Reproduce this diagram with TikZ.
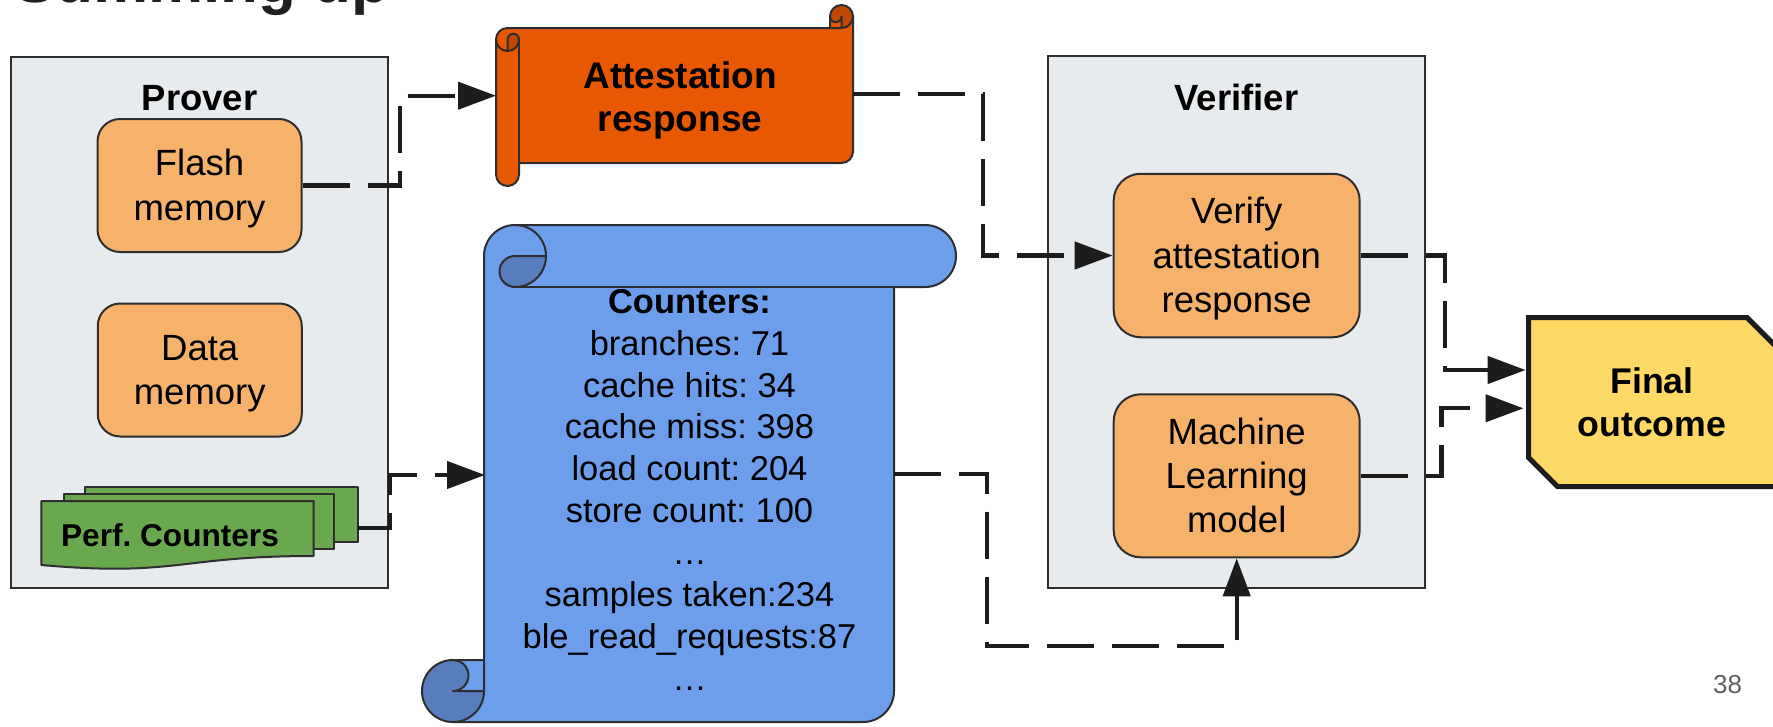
\documentclass[tikz,border=0pt]{standalone}
\usepackage{fontspec}
\setmainfont{Liberation Sans}
\usetikzlibrary{arrows.meta}
\frenchspacing
\definecolor{panelgray}{HTML}{E8EBED}
\definecolor{edgegray}{HTML}{2E2E2E}
\definecolor{boxorange}{HTML}{F6B26B}
\definecolor{scrollorange}{HTML}{E85800}
\definecolor{scrollorangedk}{HTML}{C04800}
\definecolor{scrollblue}{HTML}{6D9EEB}
\definecolor{scrollbluedk}{HTML}{587DBC}
\definecolor{docgreen}{HTML}{6AA84F}
\definecolor{outcomeyellow}{HTML}{FFD966}
\definecolor{linkblack}{HTML}{1C1C1C}
\definecolor{pagegray}{HTML}{5F5F5F}
% line box of one text line: ascent and descent of the sans face
\newcommand\lnstrut{\rule[-0.212em]{0pt}{1.117em}}
\begin{document}
\begin{tikzpicture}[x=1pt,y=-1pt,
  panel/.style={draw=edgegray,line width=2pt,fill=panelgray,minimum width=377pt,minimum height=531pt,inner sep=0pt},
  rbox/.style={draw=edgegray,line width=2pt,fill=boxorange,align=center,inner sep=0pt,font=\fontsize{36.5}{44.4}\selectfont},
  paneltitle/.style={font=\fontsize{36.5}{40}\selectfont\bfseries,anchor=base,inner sep=0pt},
  shapeline/.style={draw=edgegray,line width=2pt,line join=round},
  conn/.style={draw=linkblack,line width=4.3pt,line join=miter,dash pattern=on 47pt off 18pt,-{Triangle[length=38pt,width=27pt]}},
]
\fill[white] (0,0) rectangle (1773,726);
\useasboundingbox (0,0) rectangle (1773,726);

% slide heading, only its lower edge falls inside the frame
\node[anchor=base west,inner sep=0pt,font=\fontsize{62}{70}\selectfont\bfseries,text=black!88] (heading) at (14,2) {Summing up};

% ---- panels ----
\node[panel] (prover) at (199.5,322.5) {};
\node[panel,minimum height=532pt] (verifier) at (1236.4,322.2) {};
\node[paneltitle] (provertitle) at (199.5,110) {Prover};
\node[paneltitle] (verifiertitle) at (1236.5,110) {Verifier};

\node[rbox,minimum width=204pt,minimum height=133pt,rounded corners=22.5pt] (flash) at (199.5,185.5) {\lnstrut Flash\\\lnstrut memory};
\node[rbox,minimum width=204pt,minimum height=133pt,rounded corners=22.5pt] (data) at (199.75,370) {\lnstrut Data\\\lnstrut memory};
\node[rbox,minimum width=246pt,minimum height=163.5pt,rounded corners=27pt] (verify) at (1236.7,255.5) {\lnstrut Verify\\\lnstrut attestation\\\lnstrut response};
\node[rbox,minimum width=246pt,minimum height=163pt,rounded corners=27pt] (ml) at (1236.7,475.8) {\lnstrut Machine\\\lnstrut Learning\\\lnstrut model};

% ---- stacked performance-counter documents ----
\path[shapeline,fill=docgreen] (85,487) rectangle (357.7,542.3);
\path[shapeline,fill=docgreen] (63.7,493.7) rectangle (334,549.3);
\path[shapeline,fill=docgreen] (41.3,501) -- (313.7,501) -- (313.7,556) .. controls (177.5,556) and (177.5,577) .. (41.3,565) -- cycle;
\node[anchor=base,inner sep=0pt,font=\fontsize{31.6}{36}\selectfont\bfseries] (perflabel) at (170,546) {Perf. Counters};
\coordinate (perfR) at (357.7,527.7);

% ---- attestation response: horizontal scroll ----
\path[fill=scrollorange] (496,39.5) arc[start angle=180,end angle=90,radius=11.5pt] -- (830,28) -- (830,16.5)
  arc[start angle=180,end angle=0,radius=11.5pt] -- (853,151.5) arc[start angle=0,end angle=-90,radius=11.5pt]
  -- (519,163) -- (519,174.5) arc[start angle=0,end angle=-180,radius=11.5pt] -- cycle;
\path[fill=scrollorangedk] (507.5,51) arc[start angle=270,end angle=360,radius=11.5pt] arc[start angle=0,end angle=180,radius=5.75pt] -- cycle;
\path[fill=scrollorangedk] (841.5,28) arc[start angle=270,end angle=540,radius=11.5pt] arc[start angle=180,end angle=360,radius=5.75pt] -- cycle;
\draw[shapeline] (496,39.5) arc[start angle=180,end angle=90,radius=11.5pt] -- (830,28) -- (830,16.5)
  arc[start angle=180,end angle=0,radius=11.5pt] -- (853,151.5) arc[start angle=0,end angle=-90,radius=11.5pt]
  -- (519,163) -- (519,174.5) arc[start angle=0,end angle=-180,radius=11.5pt] -- cycle;
\draw[shapeline] (830,28) -- (841.5,28) arc[start angle=270,end angle=360,radius=11.5pt];
\draw[shapeline] (841.5,28) -- (841.5,16.5) arc[start angle=0,end angle=-180,radius=5.75pt];
\draw[shapeline] (507.5,51) -- (507.5,39.5) arc[start angle=180,end angle=0,radius=5.75pt] arc[start angle=0,end angle=-180,radius=11.5pt];
\draw[shapeline] (519,39.5) -- (519,163);
\node[align=center,inner sep=0pt,font=\fontsize{37}{42.7}\selectfont\bfseries] (attest) at (680,96.85) {\lnstrut Attestation\\\lnstrut response};
\coordinate (attL) at (496,95.7);
\coordinate (attR) at (853,94.3);

% ---- counters: vertical scroll ----
\path[fill=scrollblue] (515,225) arc[start angle=90,end angle=180,radius=31pt] -- (484,660) -- (453,660)
  arc[start angle=90,end angle=270,radius=31pt] -- (863,722) arc[start angle=-90,end angle=0,radius=31pt]
  -- (894,287) -- (925,287) arc[start angle=-90,end angle=90,radius=31pt] -- cycle;
\path[fill=scrollbluedk] (546,256) arc[start angle=0,end angle=-90,radius=31pt] arc[start angle=-90,end angle=-270,radius=15.5pt] -- cycle;
\path[fill=scrollbluedk] (484,691) arc[start angle=0,end angle=-270,radius=31pt] arc[start angle=90,end angle=-90,radius=15.5pt] -- cycle;
\draw[shapeline] (515,225) arc[start angle=90,end angle=180,radius=31pt] -- (484,660) -- (453,660)
  arc[start angle=90,end angle=270,radius=31pt] -- (863,722) arc[start angle=-90,end angle=0,radius=31pt]
  -- (894,287) -- (925,287) arc[start angle=-90,end angle=90,radius=31pt] -- cycle;
\draw[shapeline] (484,660) -- (484,691) arc[start angle=0,end angle=-90,radius=31pt];
\draw[shapeline] (484,691) -- (453,691) arc[start angle=-90,end angle=90,radius=15.5pt];
\draw[shapeline] (546,256) -- (515,256) arc[start angle=90,end angle=270,radius=15.5pt] arc[start angle=270,end angle=450,radius=31pt];
\draw[shapeline] (515,287) -- (894,287);
\node[align=center,inner sep=0pt,font=\fontsize{34.5}{41.86}\selectfont] (counters) at (689.5,489.7)
  {\lnstrut\textbf{Counters:}\\\lnstrut branches: 71\\\lnstrut cache hits: 34\\\lnstrut cache miss: 398\\
   \lnstrut load count: 204\\\lnstrut store count: 100\\\lnstrut …\\\lnstrut samples taken:234\\
   \lnstrut ble\_read\_requests:87\\\lnstrut …};
\coordinate (bluL) at (485,475);
\coordinate (bluR) at (894,474.3);

% ---- final outcome ----
\path[draw=linkblack,line width=5pt,fill=outcomeyellow,line join=miter] (1528.5,317.5) -- (1747,317.5) -- (1776,346.5)
  -- (1776,486.5) -- (1557.5,486.5) -- (1528.5,457.5) -- cycle;
\node[align=center,inner sep=0pt,font=\fontsize{35.7}{43.4}\selectfont\bfseries] (final) at (1652,402.6) {\lnstrut Final\\\lnstrut outcome};
\coordinate (finA) at (1525.7,370);
\coordinate (finB) at (1523.5,408.3);

% ---- connectors ----
\draw[conn] (flash.east) -| ([xshift=-96pt]attL) -- (attL);
\draw[conn] (perfR) -| ([xshift=-95pt]bluL) -- (bluL);
\draw[conn] (attR) -| ([xshift=-129.4pt]verify.west) -- (verify.west);
\draw[conn] (bluR) -| (986.7,646) -| (ml.south);
\draw[conn] (verify.east) -| (1445,370) -- (finA);
\draw[conn] (ml.east) -| (1441.5,408.3) -- (finB);

% page number
\node[anchor=base,inner sep=0pt,font=\fontsize{26}{30}\selectfont,text=pagegray] (pagenum) at (1727.5,693) {38};
\end{tikzpicture}
\end{document}
